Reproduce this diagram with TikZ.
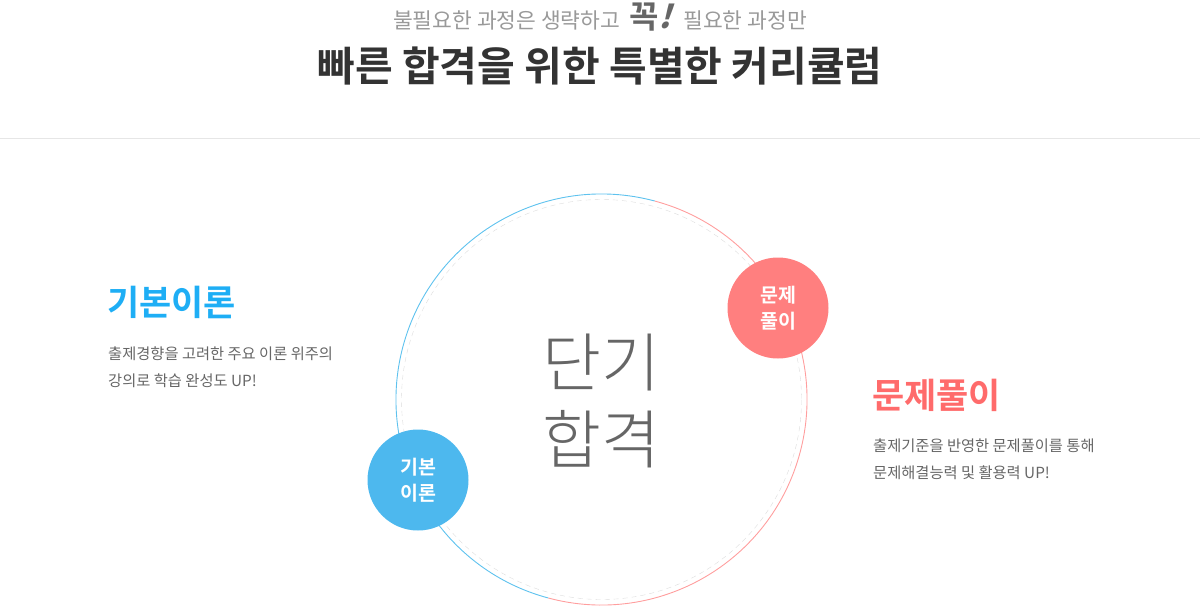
\documentclass[tikz,border=0pt]{standalone}
\usepackage{fontspec}
\setmainfont{Noto Sans CJK KR}[BoldFont={Noto Sans CJK KR Bold}]
\newfontfamily\thinfont{Noto Sans CJK KR Light}
\newfontfamily\slantfont{Noto Sans CJK KR Bold}[FakeSlant=0.3]
\definecolor{subgray}{HTML}{999999}
\definecolor{titlegray}{HTML}{333333}
\definecolor{rulegray}{HTML}{E6E6E6}
\definecolor{txtgray}{HTML}{666666}
\definecolor{dashgray}{HTML}{DCDCDC}
\definecolor{ringblue}{HTML}{5EC2EE}
\definecolor{ringred}{HTML}{FF9E9E}
\definecolor{badgeblue}{HTML}{4DB8EE}
\definecolor{badgered}{HTML}{FF7F7F}
\definecolor{headblue}{HTML}{1EAEF5}
\definecolor{headred}{HTML}{FF6B6B}
\begin{document}
\begin{tikzpicture}[x=1pt,y=-1pt,
    declare function={ r = 205.5; rin = 200; },
    ring/.style={circle,minimum size=411pt,inner sep=0pt},
    arcline/.style={line width=0.9pt},
    badge/.style={circle,minimum size=101pt,inner sep=0pt,text=white,
      align=center,font=\bfseries\fontsize{19.5}{26}\selectfont},
    heading/.style={anchor=base west,inner sep=0pt,font=\bfseries\fontsize{35}{38}\selectfont},
    blurb/.style={anchor=base west,inner sep=0pt,align=left,text=txtgray,
      font=\fontsize{15.3}{27}\selectfont}
  ]
  \useasboundingbox (0,0) rectangle (1200,606);
  \node[anchor=base,inner sep=0pt,text=subgray,font=\fontsize{21.5}{22}\selectfont] (sub) at (600,28)
    {불필요한 과정은 생략하고\hspace{9pt}{\color{txtgray}\bfseries\fontsize{32}{32}\selectfont 꼭{\slantfont !}}\hspace{12pt}필요한 과정만};
  \node[anchor=base,inner sep=0pt,text=titlegray,font=\bfseries\fontsize{41}{44}\selectfont] (title) at (600,81)
    {빠른 합격을 위한 특별한 커리큘럼};
  \draw[rulegray] (0,138.5) -- (1200,138.5);
  \node[ring] (ring) at (601.5,399.5) {};
  \draw[dashgray,dash pattern=on 5pt off 4pt] (ring.center) circle (rin);
  \draw[arcline,ringblue] (ring.center) ++(-75:r) arc (-75:-255:r);
  \draw[arcline,ringred] (ring.center) ++(-75:r) arc (-75:105:r);
  \node[anchor=base,inner sep=0pt,align=center,text=txtgray,font=\thinfont\fontsize{64}{77}\selectfont]
    (core) at (601,463) {단기\\합격};
  \node[badge,fill=badgered] (solve) at (778,308) {문제\\풀이};
  \node[badge,fill=badgeblue] (basic) at (418,480) {기본\\이론};
  \node[heading,text=headblue] (basichead) at (107,315) {기본이론};
  \node[blurb] (basictext) at (108,386.5) {출제경향을 고려한 주요 이론 위주의\\강의로 학습 완성도 UP!};
  \node[heading,text=headred] (solvehead) at (872,408) {문제풀이};
  \node[blurb] (solvetext) at (873,478.5) {출제기준을 반영한 문제풀이를 통해\\문제해결능력 및 활용력 UP!};
\end{tikzpicture}
\end{document}
